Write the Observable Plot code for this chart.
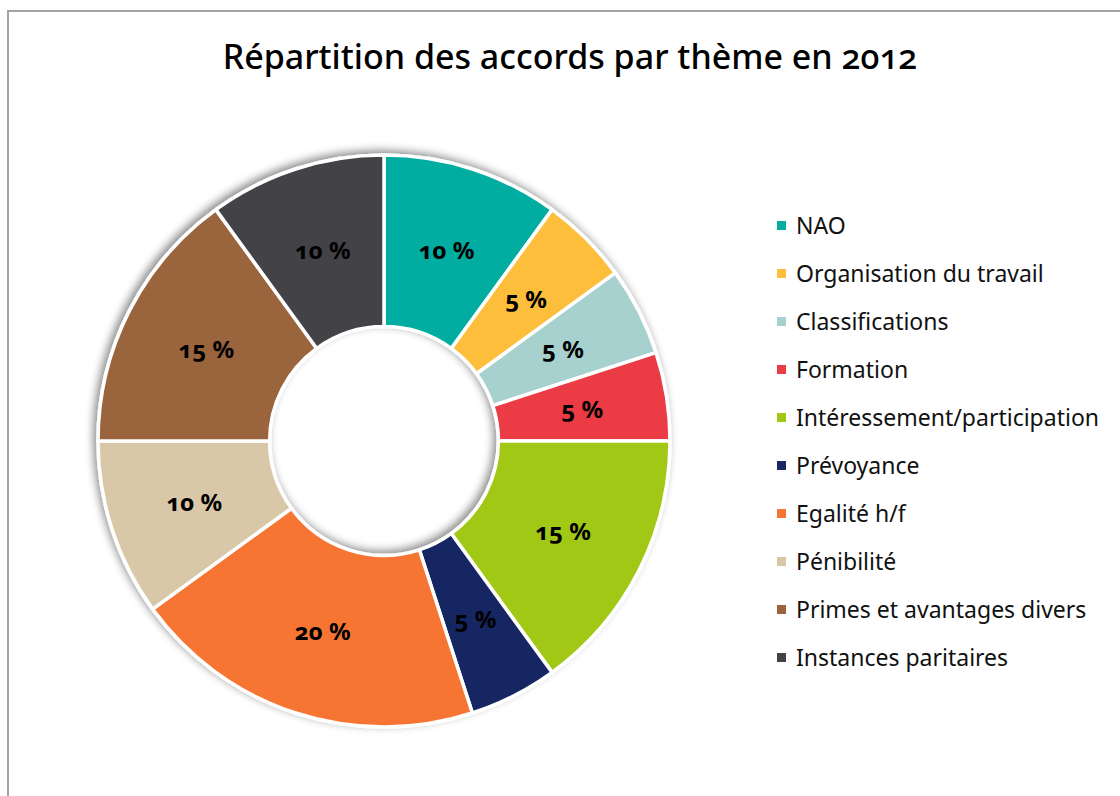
<!DOCTYPE html>
<html>
<head>
<meta charset="utf-8">
<script src="https://cdn.jsdelivr.net/npm/d3@7"></script>
<script src="https://cdn.jsdelivr.net/npm/@observablehq/plot@0.6"></script>
<style>
  html, body { margin: 0; padding: 0; background: #fff; }
  #wrap { position: relative; width: 1120px; height: 796px; overflow: hidden; font-family: "Noto Sans", "Open Sans", sans-serif; }
  #frame { position: absolute; left: 7px; top: 10px; width: 1300px; height: 1000px; border-top: 2px solid #a3a3a3; border-left: 2px solid #a3a3a3; }
  #chart { position: absolute; left: 0; top: 0; }
  #title { position: absolute; left: 0; top: 38px; width: 1140px; text-align: center; font-size: 34px; line-height: 36px; font-weight: 500; color: #000; font-variant-numeric: oldstyle-nums; }
  #legend { position: absolute; left: 777px; top: 201px; }
  .row { display: flex; align-items: center; height: 48px; font-size: 23px; color: #111; white-space: nowrap; }
  .sw { width: 9px; height: 9px; margin-right: 10px; flex: none; }
  svg text { font-variant-numeric: oldstyle-nums; }
</style>
</head>
<body>
<div id="wrap">
  <div id="frame"></div>
  <div id="chart"></div>
  <div id="title">Répartition des accords par thème en 2012</div>
  <div id="legend"></div>
</div>
<script>
const themes = ["NAO", "Organisation du travail", "Classifications", "Formation", "Intéressement/participation", "Prévoyance", "Egalité h/f", "Pénibilité", "Primes et avantages divers", "Instances paritaires"];
const shares = [10, 5, 5, 5, 15, 5, 20, 10, 15, 10];
const palette = ["#05ada0", "#fdbe3b", "#a7d1ce", "#eb3b45", "#a2c815", "#172862", "#f77533", "#d9c8a8", "#9a653d", "#434246"];
const holeRatio = 0.40;

const table = themes.map((t, i) => ({theme: t, share: shares[i]}));
const slices = d3.pie().sort(null).value(d => d.share)(table)
  .map(a => ({theme: a.data.theme, share: a.data.share, a0: a.startAngle, a1: a.endAngle}));
const mid = d => (d.a0 + d.a1) / 2;
const rLab = (1 + holeRatio) / 2;

function ringRender(index, scales, values) {
  const cx = scales.x(0), cy = scales.y(0);
  const R = scales.x(1) - cx;
  const g = d3.create("svg:g");
  const f = g.append("defs").append("filter").attr("id", "ringShadow")
    .attr("x", "-20%").attr("y", "-20%").attr("width", "140%").attr("height", "140%");
  f.append("feDropShadow").attr("dx", -3).attr("dy", -3).attr("stdDeviation", 4)
    .attr("flood-color", "#000").attr("flood-opacity", 0.45);
  const arc = d3.arc().innerRadius(R * holeRatio).outerRadius(R);
  const ring = g.append("g").attr("transform", `translate(${cx},${cy})`).attr("filter", "url(#ringShadow)");
  for (const i of index) {
    ring.append("path")
      .attr("d", arc({startAngle: slices[i].a0, endAngle: slices[i].a1}))
      .attr("fill", values.fill[i])
      .attr("stroke", "white").attr("stroke-width", 3.5).attr("stroke-linejoin", "round");
  }
  return g.node();
}

const plot = Plot.plot({
  width: 1120,
  height: 796,
  margin: 0,
  x: {domain: [-1, 1], range: [98, 670], axis: null},
  y: {domain: [-1, 1], range: [727, 155], axis: null},
  color: {domain: themes, range: palette},
  style: {background: "transparent", fontFamily: "Noto Sans, sans-serif"},
  marks: [
    Plot.dot(slices, {x: d => 0, y: d => 0, fill: "theme", render: ringRender}),
    Plot.text(slices, {
      x: d => rLab * Math.sin(mid(d)),
      y: d => rLab * Math.cos(mid(d)),
      text: d => d.share + " %",
      fontSize: 24,
      fontWeight: 700,
      fill: "#000"
    })
  ]
});
document.getElementById("chart").appendChild(plot);

const cs = plot.scale("color");
const legend = d3.select("#legend");
cs.domain.forEach((t, i) => {
  const row = legend.append("div").attr("class", "row");
  row.append("span").attr("class", "sw").style("background", cs.range[i]);
  row.append("span").text(t);
});
</script>
</body>
</html>
